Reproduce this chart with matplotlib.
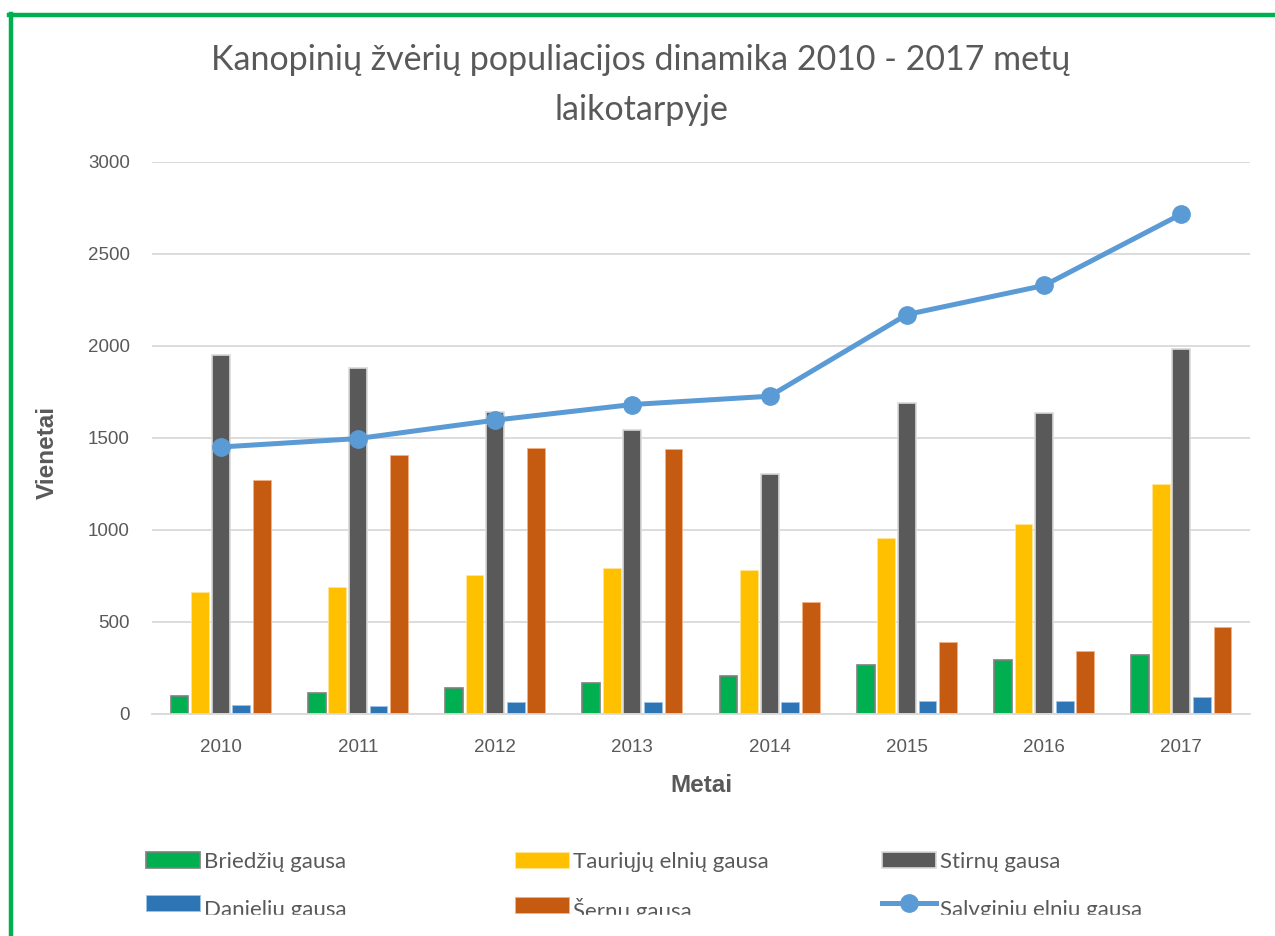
import matplotlib.pyplot as plt
import numpy as np
from matplotlib.lines import Line2D
from matplotlib.patches import Rectangle

years = ['2010', '2011', '2012', '2013', '2014', '2015', '2016', '2017']
briedziu = [100, 112, 143, 167, 206, 266, 293, 318]
tauriuju = [664, 691, 753, 791, 785, 957, 1033, 1250]
stirnu = [1951, 1881, 1642, 1546, 1304, 1689, 1636, 1986]
danieliu = [47, 43, 63, 67, 67, 70, 70, 94]
sernu = [1271, 1405, 1445, 1440, 607, 393, 342, 471]
salvginiu = [1451, 1497, 1597, 1682, 1727, 2171, 2329, 2717]

names = ['Briedžių gausa', 'Tauriųjų elnių gausa', 'Stirnų gausa',
         'Danielių gausa', 'Šernų gausa', 'Salvginių elnių gausa']

W, H = 1275, 936
fig = plt.figure(figsize=(W / 100, H / 100), dpi=100)
ax = fig.add_axes([152 / W, 1 - 714 / H, (1250 - 152) / W, (714 - 162) / H])

x = np.arange(len(years))
slot = 0.15
bw = 0.13
series = [
    (briedziu, '#00b050', '#7f7f7f', 1.2),
    (tauriuju, '#ffc000', '#ffe699', 0.6),
    (stirnu, '#595959', '#d9d9d9', 1.2),
    (danieliu, '#2e75b6', '#9dc3e6', 0.6),
    (sernu, '#c55a11', '#f4b183', 0.6),
]
handles = []
for i, (vals, fc, ec, lw) in enumerate(series):
    b = ax.bar(x + (i - 2) * slot, vals, bw, color=fc, edgecolor=ec, linewidth=lw,
               zorder=2, label=names[i])
    handles.append(b)

ln, = ax.plot(x, salvginiu, color='#5b9bd5', lw=3.6, marker='o', markersize=12.5,
              zorder=3, label=names[5])
handles.append(ln)

ax.set_xlim(-0.5, len(years) - 0.5)
ax.set_ylim(0, 3000)
ax.set_yticks(range(0, 3001, 500))
ax.set_xticks(x)
ax.set_xticklabels(years)
ax.grid(axis='y', color='#d9d9d9', lw=1.3, zorder=0)
ax.set_axisbelow(True)
for s in ['top', 'right', 'left']:
    ax.spines[s].set_visible(False)
ax.spines['bottom'].set_color('#d9d9d9')
ax.spines['bottom'].set_linewidth(1.3)
ax.tick_params(axis='both', length=0, labelsize=13.5, labelcolor='#595959',
               labelfontfamily='Liberation Sans')
ax.tick_params(axis='y', pad=16)
ax.tick_params(axis='x', pad=18)

fig.text(47 / W, 1 - 452 / H, 'Vienetai', rotation=90, ha='center', va='center',
         fontsize=17.5, fontweight='bold', color='#595959', family='Liberation Sans')
fig.text(701 / W, 1 - 786 / H, 'Metai', ha='center', va='center',
         fontsize=17.5, fontweight='bold', color='#595959', family='Liberation Sans')

fig.text(641 / W, 1 - 85 / H, 'Kanopinių žvėrių populiacijos dinamika 2010 - 2017 metų\nlaikotarpyje',
         ha='center', va='center', fontsize=24.5, color='#595959', family='Lato',
         linespacing=1.72)

# legend: one entry per box, laid out as 3 columns x 2 rows
col_x = [146, 515, 882, 146, 515, 882]
row_y = [861.5, 861.5, 861.5, 904.5, 904.5, 904.5]
text_drop = [0, 0, 0, -5.5, -5.5, -5.5]  # second row text sits lower in the original
for k in range(6):
    leg = fig.legend([handles[k]], [names[k]], loc='center left',
                     bbox_to_anchor=(col_x[k] / W, 1 - row_y[k] / H),
                     frameon=False, prop={'family': 'Lato', 'size': 16},
                     handlelength=2.45, handleheight=0.7, handletextpad=0.15,
                     borderpad=0, borderaxespad=0)
    for t in leg.get_texts():
        t.set_color('#595959')
        t.set_position((0, text_drop[k]))

# bottom crop of original picture
fig.add_artist(Rectangle((14 / W, 0), 1, 1 - 915 / H, transform=fig.transFigure,
                         color='white', zorder=10))

# green frame
fig.add_artist(Line2D([10.5 / W, 10.5 / W], [0, 1 - 14 / H], transform=fig.transFigure,
                      color='#00b050', lw=3.2, zorder=11))
fig.add_artist(Line2D([9 / W, 1], [1 - 15 / H, 1 - 15 / H], transform=fig.transFigure,
                      color='#00b050', lw=3.2, zorder=11))

fig.savefig('out.png', dpi=100)
